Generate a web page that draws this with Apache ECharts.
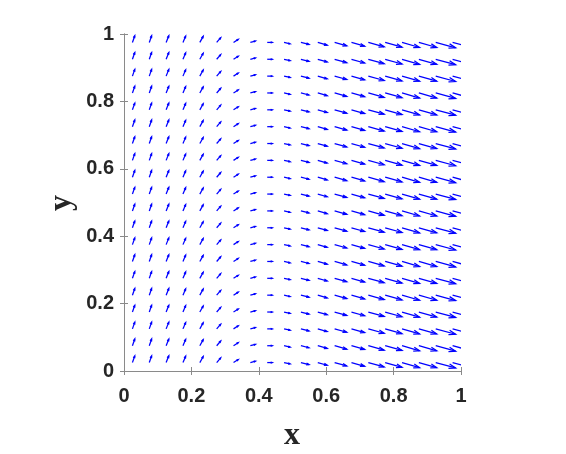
<!DOCTYPE html>
<html>
<head>
<meta charset="utf-8">
<script src="https://cdn.jsdelivr.net/npm/echarts@6/dist/echarts.min.js"></script>
<style>html,body{margin:0;padding:0;background:#fff}#c{width:566px;height:454px}</style>
</head>
<body>
<div id="c"></div>
<script>
// Grid positions of arrow tails
const xPositions = [0.025,0.075,0.125,0.175,0.225,0.275,0.325,0.375,0.425,0.475,0.525,0.575,0.625,0.675,0.725,0.775,0.825,0.875,0.925,0.975];
const yPositions = [0.025,0.075,0.125,0.175,0.225,0.275,0.325,0.375,0.425,0.475,0.525,0.575,0.625,0.675,0.725,0.775,0.825,0.875,0.925,0.975];
// Displayed vector components per column (data units), same for every row
const uValues = [0.007,0.007,0.008,0.008,0.010,0.012,0.014,0.015,0.015,0.018,0.024,0.028,0.036,0.039,0.047,0.050,0.052,0.053,0.059,0.059];
const vValues = [0.020,0.020,0.020,0.019,0.018,0.014,0.009,0.004,0.000,-0.004,-0.006,-0.008,-0.010,-0.011,-0.013,-0.014,-0.015,-0.015,-0.016,-0.016];
const tickLabels = ['0','0.2','0.4','0.6','0.8','1'];

const data = [];
for (let j = 0; j < yPositions.length; j++) {
  for (let i = 0; i < xPositions.length; i++) {
    data.push([xPositions[i], yPositions[j], uValues[i], vValues[i]]);
  }
}

function renderItem(params, api) {
  const x = api.value(0), y = api.value(1), u = api.value(2), v = api.value(3);
  const p0 = api.coord([x, y]);
  const p1 = api.coord([x + u, y + v]);
  const dx = p1[0] - p0[0], dy = p1[1] - p0[1];
  const a = 0.33, b = 0.33;
  const h1 = [p1[0] - a * (dx + b * dy), p1[1] - a * (dy - b * dx)];
  const h2 = [p1[0] - a * (dx - b * dy), p1[1] - a * (dy + b * dx)];
  const st = {stroke: '#0000ff', lineWidth: 1.25, fill: null};
  return {
    type: 'group',
    children: [
      {type: 'polyline', shape: {points: [p0, p1]}, style: st},
      {type: 'polyline', shape: {points: [h1, p1, h2]}, style: st}
    ]
  };
}

const axisColor = '#8a8a8a';
const labelStyle = {color: '#262626', fontWeight: 'bold', fontSize: 20, fontFamily: 'Liberation Sans, Arial, sans-serif'};
function fmt(v) { const i = Math.round(v * 5); return tickLabels[i]; }

const chart = echarts.init(document.getElementById('c'), null, {renderer: 'canvas'});
chart.setOption({
  animation: false,
  grid: {left: 124, right: 105, top: 34, bottom: 83, containLabel: false},
  xAxis: [
    {type: 'value', min: 0, max: 1, interval: 0.2, position: 'bottom',
     axisLine: {show: true, lineStyle: {color: axisColor, width: 1}},
     axisTick: {show: true, inside: true, length: 4, lineStyle: {color: axisColor}},
     axisLabel: Object.assign({margin: 15, formatter: fmt}, labelStyle),
     splitLine: {show: false}},
    {type: 'value', min: 0, max: 1, interval: 0.2, position: 'top',
     axisLine: {show: true, lineStyle: {color: axisColor, width: 1}},
     axisTick: {show: true, inside: true, length: 4, lineStyle: {color: axisColor}},
     axisLabel: {show: false}, splitLine: {show: false}}
  ],
  yAxis: [
    {type: 'value', min: 0, max: 1, interval: 0.2, position: 'left',
     axisLine: {show: true, lineStyle: {color: axisColor, width: 1}},
     axisTick: {show: true, inside: true, length: 4, lineStyle: {color: axisColor}},
     axisLabel: Object.assign({margin: 10, formatter: fmt}, labelStyle),
     splitLine: {show: false}},
    {type: 'value', min: 0, max: 1, interval: 0.2, position: 'right',
     axisLine: {show: true, lineStyle: {color: axisColor, width: 1}},
     axisTick: {show: true, inside: true, length: 4, lineStyle: {color: axisColor}},
     axisLabel: {show: false}, splitLine: {show: false}}
  ],
  graphic: [
    {type: 'text', position: [292, 436], style: {text: 'x', font: 'bold 32px "Liberation Serif", serif', fill: '#262626', textAlign: 'center', textVerticalAlign: 'middle'}},
    {type: 'text', rotation: Math.PI / 2, position: [62, 203], style: {text: 'y', font: 'bold 32px "Liberation Serif", serif', fill: '#262626', textAlign: 'center', textVerticalAlign: 'middle'}}
  ],
  series: [{
    type: 'custom',
    renderItem: renderItem,
    clip: true,
    data: data,
    encode: {x: 0, y: 1}
  }]
});
</script>
</body>
</html>
